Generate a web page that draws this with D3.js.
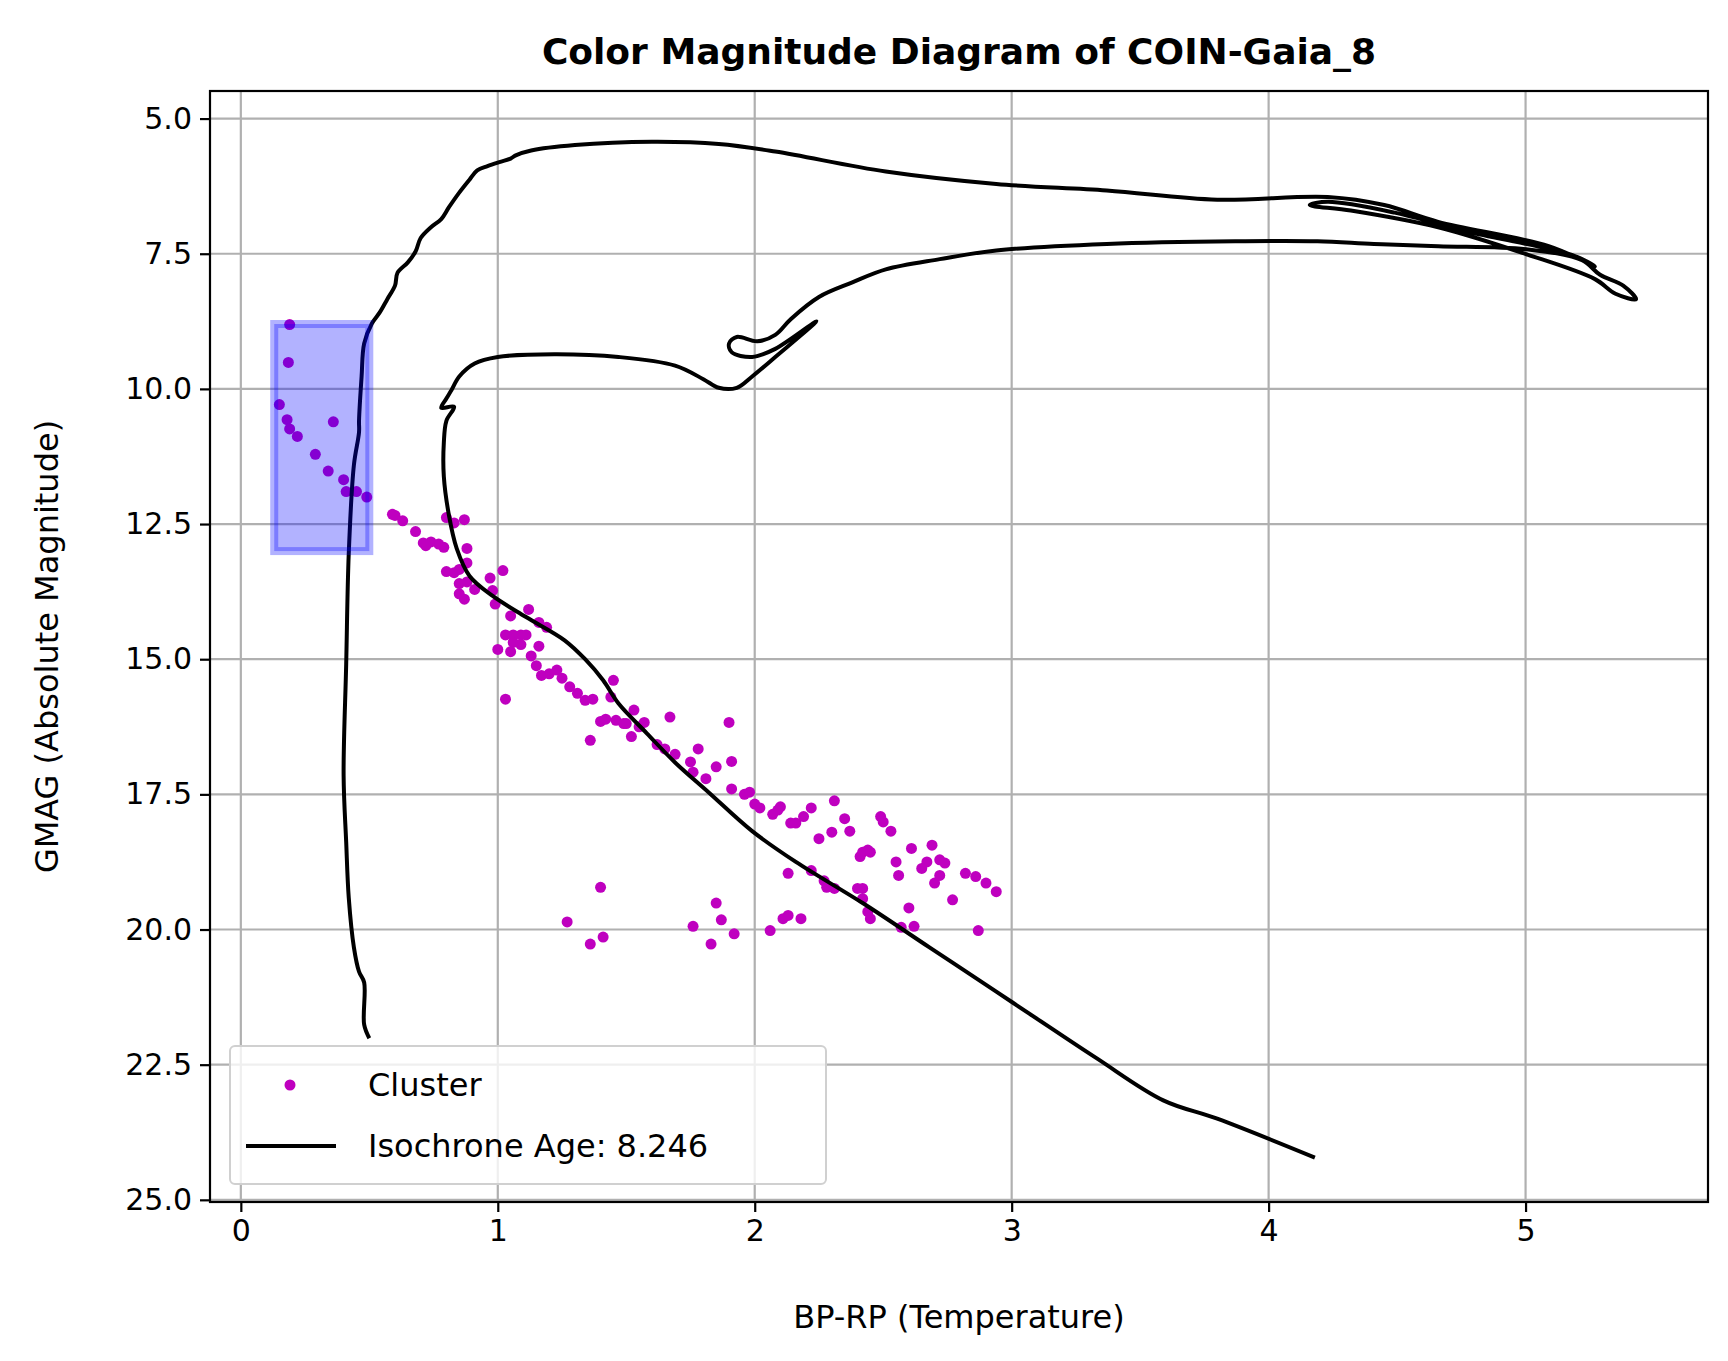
<!DOCTYPE html>
<html><head><meta charset="utf-8">
<script src="https://cdn.jsdelivr.net/npm/d3@7"></script>
<style>body{margin:0;background:#fff}text{font-family:"DejaVu Sans",sans-serif}</style>
</head><body><div id="chart"></div>
<script>
// Cluster members (BP-RP, GMAG)
const clusterBpRp = [0.19,0.185,0.15,0.18,0.19,0.22,0.36,0.29,0.34,0.40,0.41,0.45,0.49,
  0.59,0.60,0.63,0.68,0.71,0.74,0.77,0.79,0.72,0.80,0.83,0.87,0.88,0.80,0.83,0.85,0.88,0.85,0.88,0.91,0.85,0.87,
  0.97,1.02,0.98,0.99,1.05,1.12,1.16,1.19,1.03,1.06,1.09,1.11,1.06,1.09,1.0,1.05,1.16,1.13,1.15,1.17,1.2,1.23,1.25,
  1.28,1.31,1.34,1.37,1.03,1.45,1.44,1.36,1.4,1.42,1.46,1.49,1.52,1.50,1.53,1.55,1.57,1.67,1.62,1.65,1.69,1.78,1.75,
  1.76,1.81,1.85,1.90,1.91,1.91,1.96,1.98,2.0,2.02,2.07,2.09,2.10,2.14,2.16,2.19,2.22,2.25,2.31,2.30,2.35,2.37,2.42,
  2.44,2.45,2.49,2.50,2.53,2.41,2.55,2.61,2.69,2.67,2.72,2.74,2.72,2.70,2.56,2.65,2.77,2.82,2.86,2.90,2.94,2.13,2.22,
  2.27,2.28,2.31,2.40,2.42,2.44,2.45,2.42,2.6,2.57,2.62,2.87,1.85,2.11,2.13,2.18,2.06,1.92,1.87,1.83,1.76,1.40,1.27,1.36,1.41];
const clusterGmag = [8.81,9.51,10.29,10.57,10.74,10.88,10.61,11.21,11.52,11.68,11.9,11.9,12.0,
  12.32,12.34,12.44,12.64,12.85,12.83,12.87,12.93,12.9,12.38,12.48,12.42,12.95,13.38,13.4,13.34,13.22,13.6,13.57,13.71,13.79,13.89,
  13.5,13.36,13.73,13.98,14.2,14.08,14.32,14.41,14.55,14.55,14.55,14.55,14.69,14.73,14.82,14.86,14.76,14.94,15.12,15.3,15.27,15.2,15.35,
  15.51,15.63,15.76,15.74,15.74,15.39,15.7,16.5,16.15,16.11,16.13,16.19,16.43,16.19,15.94,16.25,16.17,16.07,16.58,16.66,16.76,16.66,16.9,
  17.09,17.21,16.99,16.17,16.89,17.4,17.5,17.46,17.68,17.75,17.87,17.79,17.73,18.03,18.03,17.91,17.75,18.32,17.62,18.2,17.95,18.18,18.57,
  18.53,18.57,17.91,18.01,18.18,18.65,18.75,18.5,18.44,18.75,18.71,18.77,19.0,19.14,19.0,18.87,19.45,18.96,19.02,19.14,19.3,18.96,18.91,
  19.1,19.22,19.24,19.24,19.43,19.67,19.8,19.24,19.6,19.96,19.94,20.02,19.51,19.8,19.74,19.8,20.02,20.08,19.82,20.27,19.94,19.22,19.86,20.27,20.14];

// Isochrone track (BP-RP, GMAG)
const isoBpRp = [4.18,3.80,3.59,3.33,3.07,2.94,2.68,2.42,2.16,1.99,1.82,1.69,1.58,1.47,1.41,1.34,1.26,1.11,0.98,0.89,0.84,0.81,0.79,0.79,0.80,0.83,0.78,0.80,0.82,0.85,0.91,1.0,1.22,1.47,1.69,1.80,1.86,1.93,1.99,2.08,2.24,
  2.08,1.99,1.91,1.90,1.93,2.01,2.08,2.14,2.25,2.38,2.51,2.72,2.94,3.37,3.87,4.19,4.41,4.66,5.01,5.22,5.29,5.38,5.43,
  5.35,5.27,5.01,4.66,4.32,4.16,4.23,4.49,4.79,5.18,5.27,5.09,4.66,4.45,4.23,
  3.80,3.37,2.94,2.51,2.08,1.86,1.60,1.30,1.13,1.07,1.05,1.01,0.96,0.92,0.89,0.85,0.81,0.78,0.74,0.70,0.68,0.65,0.61,0.60,0.57,0.54,0.51,0.48,0.47,0.46,0.46,0.44,0.42,0.41,0.40,0.41,0.42,0.44,0.46,0.48,0.48,0.50];
const isoGmag = [24.22,23.50,23.16,22.38,21.56,21.15,20.33,19.51,18.75,18.18,17.46,16.91,16.37,15.82,15.39,15.0,14.65,14.22,13.83,13.46,12.95,12.34,11.62,11.0,10.59,10.33,10.35,10.18,10.02,9.77,9.53,9.41,9.36,9.41,9.57,9.82,9.98,9.98,9.77,9.41,8.75,
  9.26,9.41,9.32,9.16,9.04,9.12,9.0,8.71,8.30,8.03,7.79,7.60,7.44,7.32,7.27,7.27,7.32,7.36,7.42,7.62,7.89,8.09,8.34,
  8.24,7.97,7.52,7.01,6.70,6.60,6.54,6.74,7.11,7.52,7.73,7.36,6.91,6.60,6.45,
  6.50,6.33,6.21,5.98,5.61,5.47,5.43,5.49,5.59,5.68,5.74,5.80,5.88,5.96,6.13,6.37,6.64,6.86,7.01,7.21,7.46,7.66,7.85,8.09,8.34,8.59,8.79,9.16,9.77,10.59,10.80,11.41,13.05,15.10,17.15,18.38,19.41,20.33,20.78,20.98,21.76,22.01];

const boxBpRp = [0.13, 0.5];
const boxGmag = [8.8, 13.0];
const xTicks = [0, 1, 2, 3, 4, 5];
const yTicks = [5.0, 7.5, 10.0, 12.5, 15.0, 17.5, 20.0, 22.5, 25.0];

const W = 1728, H = 1361;
const L = 210, R = 1708, T = 91, B = 1202;

const x = d3.scaleLinear().domain([-0.12, 5.71]).range([L, R]);
const y = d3.scaleLinear().domain([4.49, 25.04]).range([T, B]);

const svg = d3.select('#chart').append('svg').attr('width', W).attr('height', H);

// grid
svg.append('g').selectAll('line').data(xTicks).enter().append('line')
   .attr('x1', d => x(d)).attr('x2', d => x(d)).attr('y1', T).attr('y2', B)
   .attr('stroke', '#b0b0b0').attr('stroke-width', 2.2);
svg.append('g').selectAll('line').data(yTicks).enter().append('line')
   .attr('y1', d => y(d)).attr('y2', d => y(d)).attr('x1', L).attr('x2', R)
   .attr('stroke', '#b0b0b0').attr('stroke-width', 2.2);

// cluster points
const pts = clusterBpRp.map((v, i) => ({ c: v, g: clusterGmag[i] }));
svg.append('g').selectAll('circle').data(pts).enter().append('circle')
   .attr('cx', d => x(d.c)).attr('cy', d => y(d.g)).attr('r', 5.5).attr('fill', '#bf00bf');

// isochrone
const iso = isoBpRp.map((v, i) => [v, isoGmag[i]]);
svg.append('path').datum(iso)
   .attr('d', d3.line().curve(d3.curveCatmullRom).x(d => x(d[0])).y(d => y(d[1])))
   .attr('fill', 'none').attr('stroke', '#000').attr('stroke-width', 4).attr('stroke-linejoin', 'round');

// highlight box
svg.append('rect')
   .attr('x', x(boxBpRp[0])).attr('y', y(boxGmag[0]))
   .attr('width', x(boxBpRp[1]) - x(boxBpRp[0])).attr('height', y(boxGmag[1]) - y(boxGmag[0]))
   .attr('fill', 'rgba(0,0,255,0.3)').attr('stroke', 'rgba(0,0,255,0.3)').attr('stroke-width', 8);

// frame
svg.append('rect').attr('x', L).attr('y', T).attr('width', R - L).attr('height', B - T)
   .attr('fill', 'none').attr('stroke', '#000').attr('stroke-width', 2.2);

// axes
const xAxis = svg.append('g').attr('transform', 'translate(0,' + B + ')')
   .call(d3.axisBottom(x).tickValues(xTicks).tickFormat(d3.format('d')).tickSize(10).tickPadding(8));
const yAxis = svg.append('g').attr('transform', 'translate(' + L + ',0)')
   .call(d3.axisLeft(y).tickValues(yTicks).tickFormat(d3.format('.1f')).tickSize(10).tickPadding(8));
[xAxis, yAxis].forEach(a => {
  a.select('.domain').remove();
  a.selectAll('.tick line').attr('stroke', '#000').attr('stroke-width', 2.2);
  a.selectAll('.tick text').attr('font-size', 30).attr('fill', '#000').style('font-family', '"DejaVu Sans",sans-serif');
});

svg.append('text').attr('x', (L + R) / 2).attr('y', 64).attr('text-anchor', 'middle')
   .attr('font-size', 36).attr('font-weight', 'bold').text('Color Magnitude Diagram of COIN-Gaia_8');
svg.append('text').attr('x', (L + R) / 2).attr('y', 1328).attr('text-anchor', 'middle')
   .attr('font-size', 32).text('BP-RP (Temperature)');
svg.append('text').attr('transform', 'translate(58,' + (T + B) / 2 + ') rotate(-90)').attr('text-anchor', 'middle')
   .attr('font-size', 32).text('GMAG (Absolute Magnitude)');

// legend
const lg = svg.append('g');
lg.append('rect').attr('x', 230).attr('y', 1046).attr('width', 596).attr('height', 138).attr('rx', 5)
  .attr('fill', 'rgba(255,255,255,0.8)').attr('stroke', '#d0d0d0').attr('stroke-width', 2);
lg.append('circle').attr('cx', 290).attr('cy', 1085).attr('r', 5.5).attr('fill', '#bf00bf');
lg.append('line').attr('x1', 246).attr('x2', 336).attr('y1', 1146).attr('y2', 1146).attr('stroke', '#000').attr('stroke-width', 4);
lg.append('text').attr('x', 368).attr('y', 1096).attr('font-size', 32).text('Cluster');
lg.append('text').attr('x', 368).attr('y', 1157).attr('font-size', 32).text('Isochrone Age: 8.246');
</script></body></html>
